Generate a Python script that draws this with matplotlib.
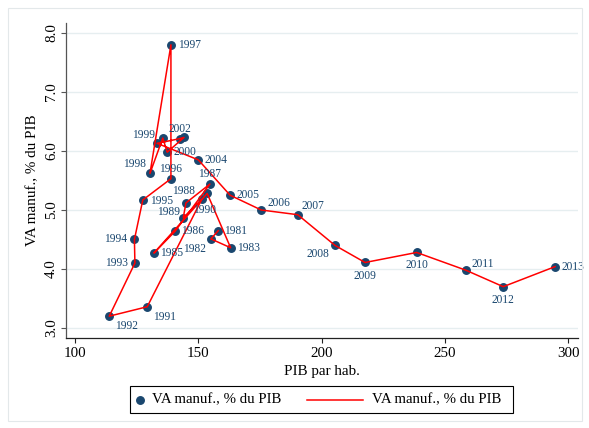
import matplotlib
matplotlib.use("Agg")
import matplotlib.pyplot as plt
from matplotlib.lines import Line2D
from matplotlib.patches import Rectangle

# ---------------- data ----------------
years = list(range(1981, 2014))
pib_hab = [158.1, 155.1, 163.1, 153.6, 132.0, 140.6, 154.7, 145.0, 143.9, 151.4,
           129.3, 113.9, 124.3, 124.1, 127.5, 138.9, 138.9, 130.4, 135.6, 137.4,
           144.2, 142.5, 133.3, 150.0, 162.9, 175.5, 190.3, 205.4, 217.6, 238.5,
           258.4, 273.6, 294.6]
va_manuf = [4.65, 4.51, 4.36, 5.28, 4.27, 4.64, 5.44, 5.12, 4.87, 5.18,
            3.36, 3.20, 4.10, 4.50, 5.17, 5.53, 7.80, 5.62, 6.22, 5.98,
            6.23, 6.21, 6.13, 5.85, 5.25, 5.00, 4.92, 4.40, 4.11, 4.28,
            3.98, 3.70, 4.04]
x_ticks = [100, 150, 200, 250, 300]
y_ticks = [3.0, 4.0, 5.0, 6.0, 7.0, 8.0]
series_name = "VA manuf., % du PIB"
x_title = "PIB par hab."
y_title = "VA manuf., % du PIB"
# years whose marker label is not shown
hidden_labels = [1984, 2001, 2003]

# ---------------- label placement (style) ----------------
# (dx px, dy px (up positive), ha)
RIGHT = (6, 0, "left")
label_pos = {
    1981: RIGHT, 1982: (-5, -10, "right"), 1983: RIGHT, 1985: RIGHT,
    1986: RIGHT, 1987: (0, 10, "center"), 1988: (-2, 12, "center"),
    1989: (-3, 6, "right"), 1990: (3, -11, "center"), 1991: (6, -10, "left"),
    1992: (6, -10, "left"), 1993: (-7, 0, "right"), 1994: (-7, 0, "right"),
    1995: (7, -1, "left"), 1996: (0, 10, "center"), 1997: (7, 0, "left"),
    1998: (-15, 9, "center"), 1999: (-19, 3, "center"), 2000: (6, 0, "left"),
    2002: (0, 10, "center"), 2004: RIGHT, 2005: RIGHT, 2006: (6, 7, "left"),
    2007: (4, 9, "left"), 2008: (-6, -9, "right"), 2009: (0, -14, "center"),
    2010: (0, -13, "center"), 2011: (6, 6, "left"), 2012: (0, -13, "center"),
    2013: RIGHT,
}

NAVY = "#1a476f"
SERIF = ["Liberation Serif", "DejaVu Serif"]
plt.rcParams["font.family"] = SERIF

W, H = 589, 428
fig = plt.figure(figsize=(W / 100, H / 100), dpi=100)
fig.patch.set_facecolor("white")

# outer light frame
fig.add_artist(Rectangle((7.5 / W, 7.5 / H), (W - 15) / W, (H - 15) / H,
                         transform=fig.transFigure, fill=False,
                         edgecolor="#e3e8ea", lw=0.8))

L, R, T, B = 66, 578, 23, 338
ax = fig.add_axes([L / W, 1 - B / H, (R - L) / W, (B - T) / H])
ax.set_xlim(96.37, 303.9)
ax.set_ylim(2.83, 8.17)

for y in y_ticks:
    ax.axhline(y, color="#e6eef0", lw=1.0, zorder=0)

ax.plot(pib_hab, va_manuf, linestyle="none", marker="o", ms=5.4,
        color=NAVY, zorder=3)
ax.plot(pib_hab, va_manuf, color="red", lw=1.1, zorder=4)

for yr, xv, yv in zip(years, pib_hab, va_manuf):
    if yr in hidden_labels:
        continue
    dx, dy, ha = label_pos.get(yr, RIGHT)
    ax.annotate(str(yr), (xv, yv), xytext=(dx, dy), textcoords="offset pixels",
                ha=ha, va="center", fontsize=8.3, color=NAVY, zorder=5)

for s in ["top", "right"]:
    ax.spines[s].set_visible(False)
ax.spines["left"].set_color("#555555")
ax.spines["bottom"].set_color("#222222")
ax.spines["left"].set_linewidth(0.9)
ax.spines["bottom"].set_linewidth(0.9)

ax.set_xticks(x_ticks)
ax.set_xticklabels([str(v) for v in x_ticks])
ax.set_yticks(y_ticks)
ax.set_yticklabels([f"{v:.1f}" for v in y_ticks])
ax.tick_params(axis="x", length=3.6, width=0.8, color="#222222",
               labelsize=10.8, pad=3)
ax.tick_params(axis="y", length=3.6, width=0.8, color="#555555",
               labelsize=10.8, pad=2, labelrotation=90)
for t in ax.get_yticklabels():
    t.set_va("center")

ax.set_xlabel(x_title, fontsize=10.9)
ax.xaxis.set_label_coords(0.5, (B - 371) / (B - T))
ax.xaxis.label.set_va("center")
ax.set_ylabel(y_title, fontsize=10.9)
ax.yaxis.set_label_coords((33 - L) / (R - L), 0.5)
ax.yaxis.label.set_va("center")

# ---------------- legend (drawn manually) ----------------
lx0, lx1, ly0, ly1 = 130, 513, 386, 413
fig.add_artist(Rectangle((lx0 / W, 1 - ly1 / H), (lx1 - lx0) / W, (ly1 - ly0) / H,
                         transform=fig.transFigure, fill=False,
                         edgecolor="black", lw=0.8))
ly = 1 - ((ly0 + ly1) / 2) / H
fig.add_artist(Line2D([140 / W], [ly], marker="o", ms=5.4, color=NAVY,
                      linestyle="none", transform=fig.transFigure))
fig.text(152 / W, ly, series_name, fontsize=10.7, va="center", ha="left")
fig.add_artist(Line2D([307 / W, 363 / W], [ly, ly], color="red", lw=1.1,
                      transform=fig.transFigure))
fig.text(372 / W, ly, series_name, fontsize=10.7, va="center", ha="left")

fig.savefig("out.png", dpi=100)
